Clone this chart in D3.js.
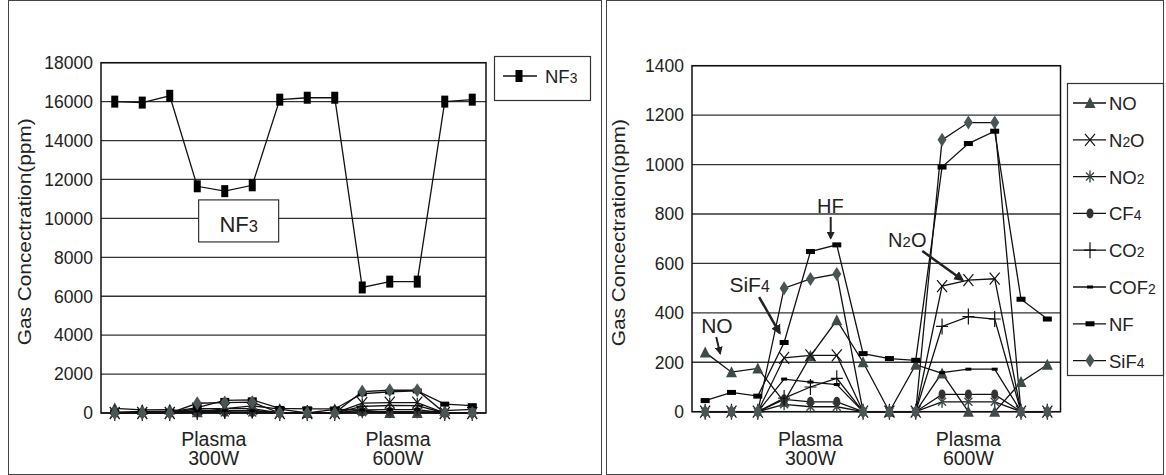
<!DOCTYPE html>
<html>
<head>
<meta charset="utf-8">
<script src="https://cdn.jsdelivr.net/npm/d3@7"></script>
<style>
  body { margin: 0; background: #fff; }
  text { font-family: "Liberation Sans", Arial, sans-serif; fill: #222; }
</style>
</head>
<body>
<svg id="chart" width="1166" height="475"></svg>
<script>
// 14 sampling points, unnamed on the axis
const samples = d3.range(1, 15).map((i) => "S" + i);

const nf3  = [16000, 15950, 16300, 11650, 11400, 11700, 16100, 16200, 16200, 6450, 6750, 6750, 16000, 16100];
const no   = [240, 160, 175, 40, 225, 370, 200, 0, 190, 155, 0, 0, 120, 190];
const n2o  = [0, 0, 0, 218, 228, 228, 0, 0, 0, 508, 532, 538, 0, 0];
const no2  = [0, 0, 0, 30, 20, 20, 0, 0, 0, 40, 40, 40, 0, 0];
const cf4  = [0, 0, 0, 50, 40, 40, 0, 0, 0, 70, 70, 70, 0, 0];
const co2  = [0, 0, 0, 55, 100, 135, 0, 0, 0, 345, 385, 375, 0, 0];
const cof2 = [0, 0, 0, 132, 120, 110, 0, 0, 0, 158, 172, 172, 0, 0];
const nf   = [45, 78, 63, 280, 648, 675, 235, 215, 208, 990, 1085, 1135, 455, 375];
const sif4 = [0, 0, 0, 500, 537, 557, 0, 0, 0, 1100, 1170, 1170, 0, 0];

const seriesNames = ["NO", "N2O", "NO2", "CF4", "CO2", "COF2", "NF", "SiF4"];
const seriesValues = [no, n2o, no2, cf4, co2, cof2, nf, sif4];
const seriesMarks = ["triangle", "x", "star", "oval", "plus", "dashS", "dash", "diamond"];

const leftTicks = d3.range(0, 18001, 2000);
const rightTicks = d3.range(0, 1401, 200);

const grey = "#3e4a4a";
const svg = d3.select("#chart");

svg.append("defs").append("marker")
  .attr("id", "head")
  .attr("viewBox", "0 0 10 10")
  .attr("refX", 8).attr("refY", 5)
  .attr("markerWidth", 4).attr("markerHeight", 4)
  .attr("markerUnits", "strokeWidth")
  .attr("orient", "auto")
  .append("path").attr("d", "M0,0L10,5L0,10Z").attr("fill", "#222");

// panel frames
svg.append("rect").attr("x", 8.5).attr("y", 0.5).attr("width", 593).attr("height", 474)
  .attr("fill", "none").attr("stroke", "#444");
svg.append("rect").attr("x", 606.5).attr("y", 0.5).attr("width", 557).attr("height", 474)
  .attr("fill", "none").attr("stroke", "#444");

// chemistry labels: digits become small
const chemText = (sel, label, size) => {
  label.split(/(\d)/).filter((s) => s.length).forEach((part) => {
    sel.append("tspan")
      .attr("font-size", /\d/.test(part) ? size * 0.75 : size)
      .text(part);
  });
  return sel;
};

const drawMark = (g, type, x, y) => {
  const m = g.append("g").attr("transform", `translate(${x},${y})`);
  switch (type) {
    case "tall":
      m.append("rect").attr("x", -3.5).attr("y", -6).attr("width", 7).attr("height", 12).attr("fill", "#000");
      break;
    case "triangle":
      m.append("path").attr("d", "M0,-6L5.5,5L-5.5,5Z").attr("fill", grey);
      break;
    case "x":
      m.append("path").attr("d", "M-5,-6L5,6M-5,6L5,-6").attr("stroke", "#111").attr("stroke-width", 1.2);
      break;
    case "star":
      m.append("path").attr("d", "M-4,-4L4,4M-4,4L4,-4M0,-6L0,6").attr("stroke", grey).attr("stroke-width", 1.4);
      break;
    case "oval":
      m.append("ellipse").attr("rx", 3.5).attr("ry", 5).attr("fill", "#333");
      break;
    case "plus":
      m.append("path").attr("d", "M-6,0L6,0M0,-8L0,8").attr("stroke", "#111").attr("stroke-width", 1.2);
      break;
    case "dashS":
      m.append("rect").attr("x", -3).attr("y", -1.5).attr("width", 6).attr("height", 3).attr("fill", "#000");
      break;
    case "dash":
      m.append("rect").attr("x", -4.5).attr("y", -2.5).attr("width", 9).attr("height", 5).attr("fill", "#000");
      break;
    case "diamond":
      m.append("path").attr("d", "M0,-7L4.5,0L0,7L-4.5,0Z").attr("fill", "#4a5656");
      break;
  }
};

const drawPanel = (cfg) => {
  const g = svg.append("g");
  const x = d3.scalePoint().domain(samples).range(cfg.xRange).padding(0.5);
  const y = d3.scaleLinear().domain([0, cfg.ticks[cfg.ticks.length - 1]]).range(cfg.yRange);
  const xi = d3.scaleLinear().domain([0, samples.length - 1]).range([x(samples[0]), x(samples[samples.length - 1])]);

  const [x0, x1] = cfg.xRange;
  g.append("g").selectAll("line").data(cfg.ticks).join("line")
    .attr("x1", x0).attr("x2", x1)
    .attr("y1", (d) => y(d)).attr("y2", (d) => y(d))
    .attr("stroke", "#333").attr("stroke-width", 1.3);
  g.append("rect").attr("x", x0).attr("y", cfg.yRange[1])
    .attr("width", x1 - x0).attr("height", cfg.yRange[0] - cfg.yRange[1])
    .attr("fill", "none").attr("stroke", "#111").attr("stroke-width", 1.5);

  g.append("g").selectAll("text").data(cfg.ticks).join("text")
    .attr("x", x0 - 8).attr("y", (d) => y(d)).attr("dy", "0.36em")
    .attr("text-anchor", "end").attr("font-size", 17.5)
    .text((d) => d);

  g.append("text")
    .attr("transform", `translate(${cfg.titleX},${(cfg.yRange[0] + cfg.yRange[1]) / 2 - 6}) rotate(-90)`)
    .attr("text-anchor", "middle").attr("font-size", 19)
    .attr("textLength", 227).attr("lengthAdjust", "spacingAndGlyphs")
    .text("Gas Concectration(ppm)");

  cfg.xLabels.forEach((lb) => {
    const t = g.append("text").attr("text-anchor", "middle").attr("font-size", 19.5);
    t.append("tspan").attr("x", xi(lb.at)).attr("y", 446).text("Plasma");
    t.append("tspan").attr("x", xi(lb.at)).attr("y", 465).text(lb.text);
  });

  const line = d3.line().x((d, i) => x(samples[i])).y((d) => y(d));
  cfg.series.forEach((s) => {
    g.append("path").datum(s.values).attr("d", line)
      .attr("fill", "none").attr("stroke", "#111").attr("stroke-width", 1.3);
  });
  cfg.series.forEach((s) => {
    s.values.forEach((v, i) => drawMark(g, s.mark, x(samples[i]), y(v)));
  });

  return { g, x, y, xi };
};

// ---- left panel: NF3
const left = drawPanel({
  xRange: [101, 486], yRange: [413, 62.7], ticks: leftTicks, titleX: 31,
  xLabels: [{ at: 3.6, text: "300W" }, { at: 10.3, text: "600W" }],
  series: seriesValues.map((v, i) => ({ values: v, mark: seriesMarks[i] }))
    .concat([{ values: nf3, mark: "tall" }])
});

const lg = left.g.append("g");
lg.append("rect").attr("x", 494.5).attr("y", 56.5).attr("width", 96).attr("height", 44)
  .attr("fill", "#fff").attr("stroke", "#333").attr("stroke-width", 1.2);
lg.append("line").attr("x1", 503).attr("x2", 537).attr("y1", 76).attr("y2", 76).attr("stroke", "#111").attr("stroke-width", 1.3);
drawMark(lg, "tall", 519, 76);
chemText(lg.append("text").attr("x", 545).attr("y", 83), "NF3", 18.5);

// NF3 callout box
const bx0 = left.xi(3.05), bx1 = left.xi(5.96), by0 = left.y(10950), by1 = left.y(8790);
left.g.append("rect").attr("x", bx0).attr("y", by0).attr("width", bx1 - bx0).attr("height", by1 - by0)
  .attr("fill", "#fff").attr("stroke", "#333").attr("stroke-width", 1.2);
chemText(left.g.append("text").attr("x", (bx0 + bx1) / 2).attr("y", by1 - 10).attr("text-anchor", "middle"), "NF3", 22);

// ---- right panel: by-products
const right = drawPanel({
  xRange: [692, 1060.5], yRange: [411.7, 65.7], ticks: rightTicks, titleX: 625,
  xLabels: [{ at: 4, text: "300W" }, { at: 10, text: "600W" }],
  series: seriesValues.map((v, i) => ({ values: v, mark: seriesMarks[i] }))
});

const rg = right.g.append("g");
rg.append("rect").attr("x", 1067.5).attr("y", 83.5).attr("width", 96).attr("height", 292)
  .attr("fill", "#fff").attr("stroke", "#333").attr("stroke-width", 1.2);
seriesNames.forEach((name, i) => {
  const yy = 103 + i * 36.8;
  rg.append("line").attr("x1", 1073).attr("x2", 1106).attr("y1", yy).attr("y2", yy).attr("stroke", "#111").attr("stroke-width", 1.3);
  drawMark(rg, seriesMarks[i], 1090, yy);
  chemText(rg.append("text").attr("x", 1109).attr("y", yy + 7), name, 18.5);
});

// annotations
const ann = (label, tx, tv, size, from, to, width) => {
  chemText(right.g.append("text").attr("x", right.xi(tx)).attr("y", right.y(tv)), label, size);
  right.g.append("line")
    .attr("x1", right.xi(from[0])).attr("y1", right.y(from[1]))
    .attr("x2", right.xi(to[0])).attr("y2", right.y(to[1]))
    .attr("stroke", "#222").attr("stroke-width", width).attr("marker-end", "url(#head)");
};
ann("NO", -0.15, 318, 21, [0.42, 302], [0.57, 236], 2);
ann("SiF4", 0.92, 484, 21, [2.05, 464], [2.83, 318], 2.5);
ann("HF", 4.25, 804, 20, [4.77, 788], [4.77, 702], 2);
ann("N2O", 6.95, 666, 20, [8.25, 650], [9.78, 533], 2.5);
</script>
</body>
</html>
